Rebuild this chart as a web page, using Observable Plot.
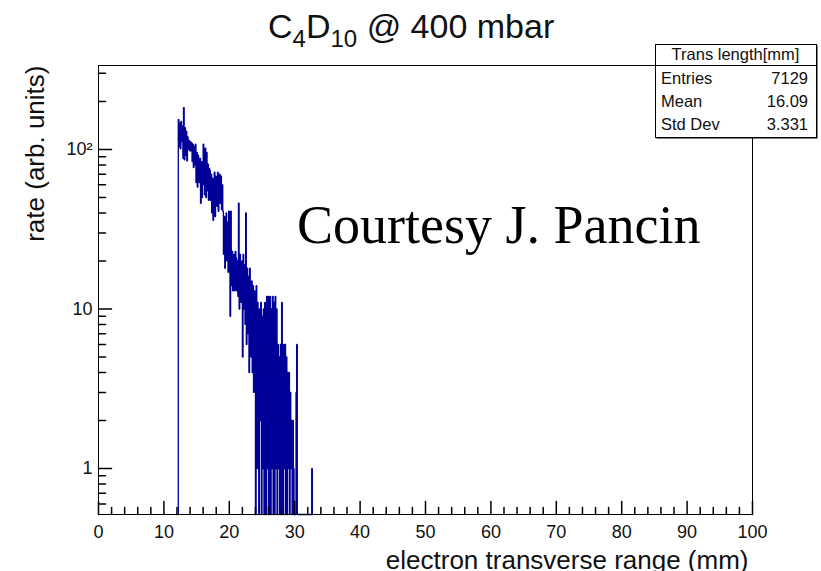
<!DOCTYPE html>
<html>
<head>
<meta charset="utf-8">
<script src="https://cdn.jsdelivr.net/npm/d3@7"></script>
<script src="https://cdn.jsdelivr.net/npm/@observablehq/plot@0.6"></script>
<style>
  html, body { margin: 0; padding: 0; background: #fff; }
  #chart { width: 821px; height: 571px; }
</style>
</head>
<body>
<div id="chart"></div>
<script>
// Histogram of electron transverse range: counts per 0.1 mm bin, starting at 12.2 mm
const binLow = 12.2;
const binWidth = 0.1;
const counts = [
  154, 104, 146, 101, 150, 112, 140, 88,
  183, 86, 137, 92, 130, 85, 120, 100, 114, 98,
  112, 98, 110, 84, 108, 77, 104, 80, 108, 62,
  96, 58, 92, 72, 62, 88, 46, 84, 50, 78,
  108, 60, 52, 102, 50, 96, 55, 81, 48, 76,
  74, 48, 70, 40, 66, 36, 52, 72, 38, 68,
  66, 44, 72, 41, 54, 70, 46, 68, 42, 60,
  41, 22, 38, 18, 30, 40, 20, 35, 17, 41,
  30, 9, 41, 14, 23, 13, 18, 22, 13, 23,
  21, 13, 20, 12, 46, 10, 22, 15, 11, 20,
  5, 22, 10, 19, 8, 40, 6, 18, 7, 16,
  4, 18, 9, 5, 15, 4, 14, 3, 13, 4,
  0, 14, 1, 11, 6, 0, 10, 2, 11, 0,
  9, 1, 10, 0, 11, 3, 0, 12, 1, 12,
  0, 11, 12, 0, 10, 1, 12, 0, 11, 0,
  12, 1, 10, 0, 6, 1, 5, 0, 6, 0,
  11, 1, 0, 6, 1, 6, 0, 5, 0, 4,
  1, 4, 0, 3, 1, 2, 0, 2, 1, 0,
  0, 0, 3, 6, 0, 0, 0, 0, 0, 0,
  0, 0, 0, 0, 0, 0, 0, 0, 0, 0,
  0, 0, 0, 0, 0, 0, 1, 0
];

// Axis ticks and labels
const xMajor = [0, 10, 20, 30, 40, 50, 60, 70, 80, 90, 100];
const xMinor = [2, 4, 6, 8, 12, 14, 16, 18, 22, 24, 26, 28, 32, 34, 36, 38, 42, 44, 46, 48,
  52, 54, 56, 58, 62, 64, 66, 68, 72, 74, 76, 78, 82, 84, 86, 88, 92, 94, 96, 98];
const yMajor = [1, 10, 100];
const yMajorLabels = ["1", "10", "10²"];
const yMinor = [0.6, 0.7, 0.8, 0.9, 2, 3, 4, 5, 6, 7, 8, 9, 20, 30, 40, 50, 60, 70, 80, 90, 200, 300];

// Stats box contents
const statsTitle = "Trans length[mm]";
const statsNames = ["Entries", "Mean", "Std Dev"];
const statsValues = ["7129", "16.09", "3.331"];

const yDomain = [0.515, 336];
const yFloor = yDomain[0];

// Step outline of the histogram; empty bins fall to the bottom of the log axis
const outline = [{x: binLow, y: yFloor}];
counts.forEach((c, i) => {
  const x0 = binLow + i * binWidth;
  const x1 = binLow + (i + 1) * binWidth;
  const y = c > 0 ? c : yFloor;
  outline.push({x: x0, y}, {x: x1, y});
});
outline.push({x: binLow + counts.length * binWidth, y: yFloor});

// Straight tick pointing along the vector direction
const tickShape = {draw(context, l) { context.moveTo(0, 0); context.lineTo(0, -l); }};
const sans = "'Liberation Sans', Arial, Helvetica, sans-serif";

const svg = Plot.plot({
  width: 821,
  height: 571,
  marginLeft: 98,
  marginRight: 69,
  marginTop: 65,
  marginBottom: 57,
  x: {domain: [0, 100], axis: null},
  y: {type: "log", domain: yDomain, axis: null},
  style: {fontFamily: sans, background: "#fff", overflow: "visible"},
  marks: [
    Plot.line(outline, {x: "x", y: "y", stroke: "#000099", strokeWidth: 1.3, strokeLinejoin: "miter"}),
    Plot.frame({stroke: "#000", strokeWidth: 1}),
    Plot.vector(xMajor, {x: d => d, frameAnchor: "bottom", length: 13, anchor: "start", shape: tickShape, stroke: "#000"}),
    Plot.vector(xMinor, {x: d => d, frameAnchor: "bottom", length: 7, anchor: "start", shape: tickShape, stroke: "#000"}),
    Plot.vector(yMajor, {y: d => d, frameAnchor: "left", rotate: 90, length: 13, anchor: "start", shape: tickShape, stroke: "#000"}),
    Plot.vector(yMinor, {y: d => d, frameAnchor: "left", rotate: 90, length: 7, anchor: "start", shape: tickShape, stroke: "#000"}),
    Plot.text(xMajor, {x: d => d, frameAnchor: "bottom", dy: 23, lineAnchor: "bottom", text: d => String(d), fontSize: 18, fill: "#111"}),
    Plot.text(yMajor, {y: d => d, frameAnchor: "left", dx: -6, textAnchor: "end", lineAnchor: "middle", text: (d, i) => yMajorLabels[i], fontSize: 18, fill: "#111"}),
    Plot.text(["electron transverse range (mm)"], {frameAnchor: "bottom-right", textAnchor: "end", lineAnchor: "bottom", dx: -4, dy: 54, text: d => d, fontSize: 26, fill: "#111"}),
    Plot.text(["rate (arb. units)"], {frameAnchor: "top-left", rotate: -90, textAnchor: "end", lineAnchor: "bottom", dx: -55, dy: 0, text: d => d, fontSize: 26, fill: "#111"})
  ]
});

const root = d3.select(svg);

// Title with subscripts
const title = root.append("text")
  .attr("x", 268).attr("y", 38).attr("text-anchor", "start")
  .attr("font-family", sans).attr("font-size", 34).attr("fill", "#111");
title.append("tspan").text("C");
title.append("tspan").attr("font-size", 24).attr("dy", 9).text("4");
title.append("tspan").attr("dy", -9).text("D");
title.append("tspan").attr("font-size", 24).attr("dy", 9).text("10");
title.append("tspan").attr("dy", -9).text(" @ 400 mbar");

// Credit line
root.append("text")
  .attr("x", 297).attr("y", 243).attr("text-anchor", "start")
  .attr("font-family", "'Liberation Serif', 'Times New Roman', serif")
  .attr("font-size", 54).attr("fill", "#000")
  .text("Courtesy J. Pancin");

// Stats box
const box = {x: 655, y: 44, w: 161, h: 93, head: 21, row: 23};
const stats = root.append("g").attr("font-family", sans).attr("fill", "#111");
stats.append("rect").attr("x", box.x + 1.5).attr("y", box.y + 1.5).attr("width", box.w).attr("height", box.h).attr("fill", "#000");
stats.append("rect").attr("x", box.x + 0.5).attr("y", box.y + 0.5).attr("width", box.w).attr("height", box.h).attr("fill", "#fff").attr("stroke", "#000");
stats.append("line").attr("x1", box.x).attr("x2", box.x + box.w).attr("y1", box.y + box.head + 0.5).attr("y2", box.y + box.head + 0.5).attr("stroke", "#000");
stats.append("text").attr("x", box.x + box.w / 2).attr("y", box.y + 16).attr("text-anchor", "middle").attr("font-size", 16.5).text(statsTitle);
statsNames.forEach((n, i) => {
  const y = box.y + box.head + 19 + i * box.row;
  stats.append("text").attr("x", box.x + 6).attr("y", y).attr("text-anchor", "start").attr("font-size", 16.5).text(n);
  stats.append("text").attr("x", box.x + box.w - 8).attr("y", y).attr("text-anchor", "end").attr("font-size", 16.5).text(statsValues[i]);
});

document.getElementById("chart").appendChild(svg);
</script>
</body>
</html>
